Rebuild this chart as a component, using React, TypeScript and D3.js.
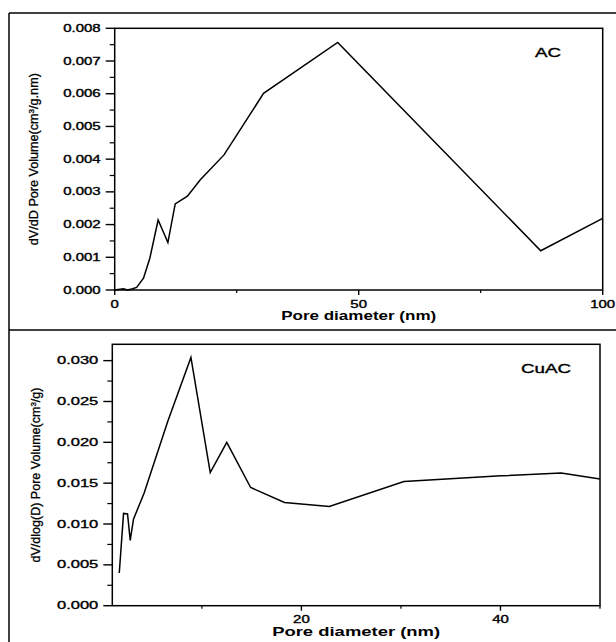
import React from "react";
import * as d3 from "d3";

// AC: dV/dD pore volume vs pore diameter (nm)
const acDiameter = [0, 1.8, 2.6, 3.5, 4.5, 5.9, 7.2, 8.9, 10.9, 12.4, 14.9, 17.5, 22.4, 30.5, 45.7, 87.3, 100];
const acVolume = [0, 0.00004, 0, 0.00003, 0.00008, 0.00036, 0.00097, 0.00214, 0.00145, 0.00263, 0.00287, 0.00336, 0.00413, 0.00601, 0.00757, 0.0012, 0.00219];

// CuAC: dV/dlog(D) pore volume vs pore diameter (nm)
const cuDiameter = [1.7, 2.13, 2.53, 2.8, 3.13, 4.2, 6.55, 8.9, 10.84, 12.5, 14.9, 18.3, 22.8, 30.3, 40.05, 46.1, 50];
const cuVolume = [0.004, 0.0113, 0.01124, 0.008, 0.0106, 0.0138, 0.0225, 0.0304, 0.0163, 0.02, 0.01447, 0.01263, 0.01214, 0.0152, 0.0159, 0.01623, 0.0155];

const acYTicks = [0, 0.001, 0.002, 0.003, 0.004, 0.005, 0.006, 0.007, 0.008];
const acXTicks = [0, 50, 100];
const acXMinor = [25, 75];
const cuYTicks = [0, 0.005, 0.01, 0.015, 0.02, 0.025, 0.03];
const cuXTicks = [20, 40];
const cuXMinor = [10, 30, 50];

const FONT = "'Liberation Sans', Arial, sans-serif";
const SX = 1.5;

const WText = ({ x, y, anchor = "middle", size = 10, weight = "normal", children }: any) => (
  <text
    transform={`translate(${x},${y}) scale(${SX},1)`}
    textAnchor={anchor}
    fontSize={size}
    fontWeight={weight}
    fontFamily={FONT}
    fill="#000"
    stroke="#000"
    strokeWidth={0.35}
  >
    {children}
  </text>
);

const Panel = ({ xs, ys, xDomain, yDomain, box, yTicks, yFmt, yMinorStep, xTicks, xMinor, label, labelPos, yTitle, yTitleX, xTitleY, xTitleLen, tickSize, yTickSize }: any) => {
  const x = d3.scaleLinear().domain(xDomain).range([box.left, box.right]);
  const y = d3.scaleLinear().domain(yDomain).range([box.bottom, box.top]);
  const pts = xs.map((d: number, i: number) => [d, ys[i]] as [number, number]);
  const line = d3.line<[number, number]>().x(d => x(d[0])).y(d => y(d[1]));
  const yMinor = d3.range(yMinorStep, yDomain[1], yMinorStep * 2);
  return (
    <g>
      <rect x={box.left} y={box.top} width={box.right - box.left} height={box.bottom - box.top} fill="none" stroke="#000" strokeWidth={1.5} />
      <path d={line(pts) || ""} fill="none" stroke="#000" strokeWidth={1.5} strokeLinejoin="miter" />
      {yTicks.map((t: number) => (
        <g key={"y" + t}>
          <line x1={box.left - 9} x2={box.left} y1={y(t)} y2={y(t)} stroke="#000" strokeWidth={1.4} />
          <WText x={box.left - 14} y={y(t) + 3.6} anchor="end" size={yTickSize}>{yFmt(t)}</WText>
        </g>
      ))}
      {yMinor.map((t: number) => (
        <line key={"ym" + t} x1={box.left - 5} x2={box.left} y1={y(t)} y2={y(t)} stroke="#000" strokeWidth={1.2} />
      ))}
      {xTicks.map((t: number) => (
        <g key={"x" + t}>
          <line x1={x(t)} x2={x(t)} y1={box.bottom} y2={box.bottom + 5} stroke="#000" strokeWidth={1.4} />
          <WText x={x(t)} y={box.bottom + tickSize} size={10}>{t}</WText>
        </g>
      ))}
      {xMinor.map((t: number) => (
        <line key={"xm" + t} x1={x(t)} x2={x(t)} y1={box.bottom} y2={box.bottom + 3} stroke="#000" strokeWidth={1.2} />
      ))}
      <WText x={labelPos[0]} y={labelPos[1]} anchor="start" size={12.5}>{label}</WText>
      <text
        x={(box.left + box.right) / 2}
        y={xTitleY}
        textAnchor="middle"
        fontSize={12}
        fontWeight="bold"
        fontFamily={FONT}
        textLength={xTitleLen}
        lengthAdjust="spacingAndGlyphs"
      >
        Pore diameter (nm)
      </text>
      <text
        transform={`translate(${yTitleX},${(box.top + box.bottom) / 2}) rotate(-90)`}
        textAnchor="middle"
        fontSize={12.5}
        fontFamily={FONT}
        textLength={yTitle.len}
        lengthAdjust="spacingAndGlyphs"
        stroke="#000"
        strokeWidth={0.3}
      >
        {yTitle.pre}
        <tspan fontSize={8} dy={-4.5}>3</tspan>
        <tspan dy={4.5}>{yTitle.post}</tspan>
      </text>
    </g>
  );
};

export default function App() {
  return (
    <svg width={616} height={642} style={{ position: "absolute", left: 0, top: 0, background: "#fff" }}>
      <rect x={0} y={0} width={616} height={642} fill="#fff" />
      <line x1={9} x2={616} y1={13} y2={13} stroke="#000" strokeWidth={1.5} />
      <line x1={9} x2={616} y1={330} y2={330} stroke="#000" strokeWidth={1.5} />
      <line x1={9} x2={9} y1={13} y2={642} stroke="#000" strokeWidth={1.5} />
      <Panel
        xs={acDiameter}
        ys={acVolume}
        xDomain={[0, 100]}
        yDomain={[0, 0.008]}
        box={{ left: 114.7, right: 602.7, top: 28.3, bottom: 290 }}
        yTicks={acYTicks}
        yFmt={d3.format(".3f")}
        yMinorStep={0.0005}
        yTickSize={10}
        xTicks={acXTicks}
        xMinor={acXMinor}
        tickSize={18}
        label="AC"
        labelPos={[535, 57]}
        yTitle={{ pre: "dV/dD Pore Volume(cm", post: "/g.nm)", len: 172 }}
        yTitleX={38}
        xTitleY={320}
        xTitleLen={155}
      />
      <Panel
        xs={cuDiameter}
        ys={cuVolume}
        xDomain={[1, 50]}
        yDomain={[0, 0.032]}
        box={{ left: 112.3, right: 600, top: 344.3, bottom: 605.7 }}
        yTicks={cuYTicks}
        yFmt={d3.format(".3f")}
        yMinorStep={0.0025}
        yTickSize={11}
        xTicks={cuXTicks}
        xMinor={cuXMinor}
        tickSize={17.5}
        label="CuAC"
        labelPos={[521, 373]}
        yTitle={{ pre: "dV/dlog(D) Pore Volume(cm", post: "/g)", len: 175 }}
        yTitleX={40}
        xTitleY={636}
        xTitleLen={168}
      />
    </svg>
  );
}
